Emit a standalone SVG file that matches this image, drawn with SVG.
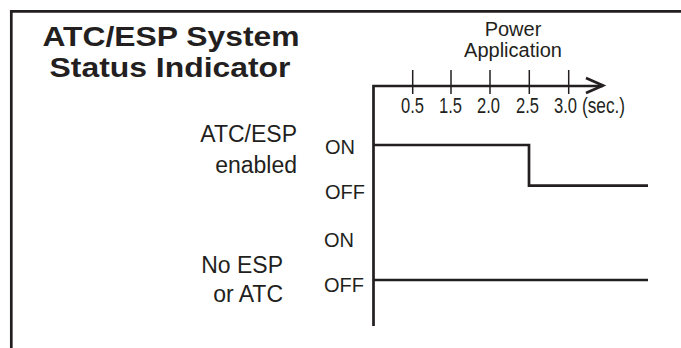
<svg xmlns="http://www.w3.org/2000/svg" width="681" height="348" viewBox="0 0 681 348">
<style>
text{font-family:"Liberation Sans",Arial,sans-serif;fill:#231f20}
.title{font-size:28px;font-weight:bold;text-anchor:middle}
.lbl{font-size:23px;text-anchor:end}
.st{font-size:20px}
.pw{font-size:20px;text-anchor:middle}
.tk{font-size:22px}
.ln{stroke:#231f20;fill:none;stroke-width:2.7}
.tick{stroke:#231f20;stroke-width:1.5}
</style>
<rect width="681" height="348" fill="#fff"/>
<g id="frame"><path class="ln" d="M11.3 348 V11.3 H681" stroke-width="2.4"/></g>
<g id="title">
<text class="title" x="171" y="45.5" textLength="257" lengthAdjust="spacingAndGlyphs">ATC/ESP System</text>
<text class="title" x="170" y="77" textLength="241" lengthAdjust="spacingAndGlyphs">Status Indicator</text>
</g>
<g id="power-label">
<text class="pw" x="513" y="36">Power</text>
<text class="pw" x="513" y="57">Application</text>
</g>
<g id="time-axis">
<line class="tick" x1="412.7" y1="70" x2="412.7" y2="94"/>
<line class="tick" x1="451" y1="70" x2="451" y2="94"/>
<line class="tick" x1="490" y1="70" x2="490" y2="94"/>
<line class="tick" x1="529.3" y1="70" x2="529.3" y2="94"/>
<line class="tick" x1="568.7" y1="70" x2="568.7" y2="94"/>
<text class="tk" x="401" y="113" textLength="23" lengthAdjust="spacingAndGlyphs">0.5</text>
<text class="tk" x="439" y="113" textLength="23" lengthAdjust="spacingAndGlyphs">1.5</text>
<text class="tk" x="477" y="113" textLength="23" lengthAdjust="spacingAndGlyphs">2.0</text>
<text class="tk" x="516" y="113" textLength="23" lengthAdjust="spacingAndGlyphs">2.5</text>
<text class="tk" x="554" y="113" textLength="23" lengthAdjust="spacingAndGlyphs">3.0</text>
<text class="tk" x="582" y="113" textLength="43" lengthAdjust="spacingAndGlyphs">(sec.)</text>
</g>
<g id="atc-esp-enabled">
<text class="lbl" x="297" y="142">ATC/ESP</text>
<text class="lbl" x="297" y="173">enabled</text>
<text class="st" x="325" y="154">ON</text>
<text class="st" x="325" y="199">OFF</text>
</g>
<g id="no-esp-atc">
<text class="lbl" x="283" y="273">No ESP</text>
<text class="lbl" x="283" y="302">or ATC</text>
<text class="st" x="324" y="247">ON</text>
<text class="st" x="324" y="292">OFF</text>
</g>
<g id="connectors">
<path class="ln" d="M373.5 326 V86 H603"/>
<path class="ln" d="M586 78 L603 85.5 L586 93" stroke-width="3"/>
<path class="ln" d="M373.5 145 H529 V185.7 H648"/>
<path class="ln" d="M373.5 280 H648"/>
</g>
</svg>
